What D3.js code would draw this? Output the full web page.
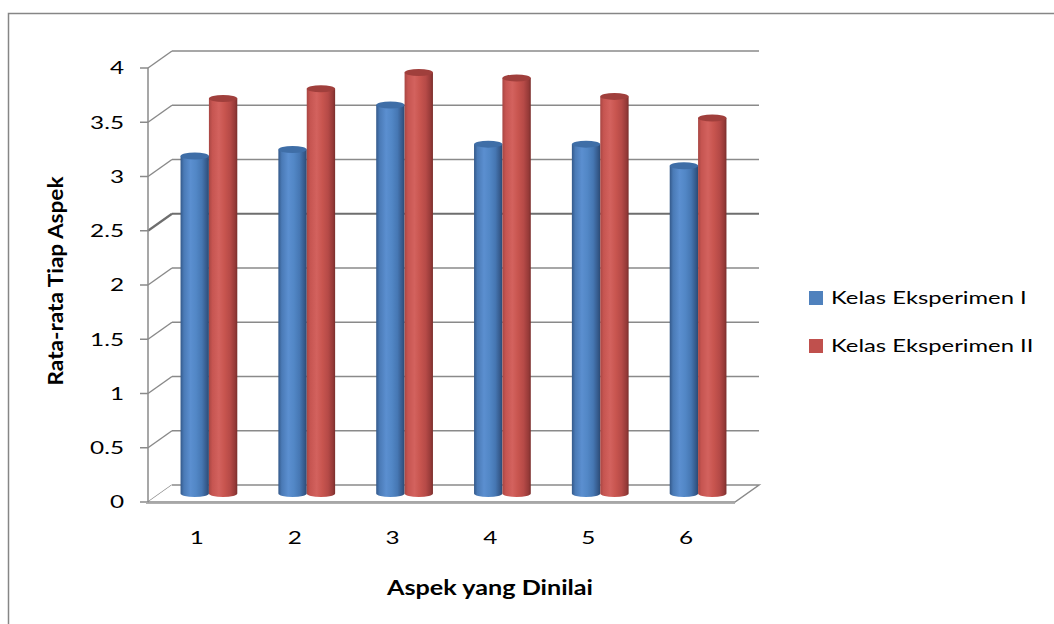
<!DOCTYPE html>
<html>
<head>
<meta charset="utf-8">
<script src="https://cdn.jsdelivr.net/npm/d3@7"></script>
<style>
  html, body { margin: 0; padding: 0; background: #fff; }
  svg { display: block; }
  text { font-family: Lato, "Open Sans", sans-serif; fill: #000; }
</style>
</head>
<body>
<svg id="chart" width="1054" height="624"></svg>
<script>
// Average score per assessed aspect, two experimental classes
const categories = ["1", "2", "3", "4", "5", "6"];
const seriesNames = ["Kelas Eksperimen I", "Kelas Eksperimen II"];
const kelas1 = [3.11, 3.17, 3.58, 3.22, 3.22, 3.02];
const kelas2 = [3.64, 3.73, 3.88, 3.83, 3.66, 3.46];
const yTicks = [0, 0.5, 1, 1.5, 2, 2.5, 3, 3.5, 4];
const yTickLabels = ["0", "0.5", "1", "1.5", "2", "2.5", "3", "3.5", "4"];
const xTitle = "Aspek yang Dinilai";
const yTitle = "Rata-rata Tiap Aspek";

const svg = d3.select("#chart");

// Plot frame: front plane plus an oblique depth offset for the back wall
const plotLeft = 148, plotRight = 735, plotBottom = 502, plotTop = 68;
const depth = { dx: 24, dy: -17 };
const barDepth = { dx: depth.dx / 2, dy: depth.dy / 2 };

const x = d3.scaleBand().domain(categories).range([plotLeft, plotRight])
  .paddingInner(0.42).paddingOuter(0.21);
const xLabel = d3.scaleBand().domain(categories).range([plotLeft, plotRight]);
const xSeries = d3.scaleBand().domain(seriesNames).range([0, x.bandwidth()]);
const y = d3.scaleLinear().domain([0, 4]).range([plotBottom, plotTop]);

const colors = {
  "Kelas Eksperimen I": { base: "#4F81BD", stops: ["#34598a", "#4a7ab6", "#5b8fd0", "#5287c6", "#4677b3", "#35598a", "#2b4a74"], top: "#3f6ea7" },
  "Kelas Eksperimen II": { base: "#C0504D", stops: ["#a84643", "#c65551", "#d3625e", "#c8554f", "#b64a47", "#963a38", "#7a2e2c"], top: "#a03f3c" }
};

// Text is drawn wide (horizontal stretch) like the rest of the chart
const stretch = 1.4;

// Outer chart border
svg.append("rect")
  .attr("x", 8.5).attr("y", 13.5).attr("width", 1100).attr("height", 700)
  .attr("fill", "none").attr("stroke", "#868686").attr("stroke-width", 1.5);

// Cylinder shading gradients
const defs = svg.append("defs");
seriesNames.forEach((s, i) => {
  const g = defs.append("linearGradient").attr("id", "grad" + i)
    .attr("x1", "0%").attr("x2", "100%").attr("y1", "0%").attr("y2", "0%");
  const offs = [0, 0.12, 0.35, 0.55, 0.75, 0.92, 1];
  colors[s].stops.forEach((c, k) => g.append("stop").attr("offset", offs[k]).attr("stop-color", c));
});

const grid = svg.append("g").attr("fill", "none");
const gridColor = "#8a8a8a";

// Back wall gridlines and the diagonal connectors on the side wall
yTicks.forEach(v => {
  const strong = v === 2.5;
  const col = strong ? "#6e6e6e" : gridColor;
  const w = strong ? 2.2 : 1.5;
  if (v > 0) {
    grid.append("line")
      .attr("x1", plotLeft + depth.dx).attr("x2", plotRight + depth.dx)
      .attr("y1", y(v) + depth.dy).attr("y2", y(v) + depth.dy)
      .attr("stroke", col).attr("stroke-width", w);
  }
  grid.append("line")
    .attr("x1", plotLeft).attr("y1", y(v))
    .attr("x2", plotLeft + depth.dx).attr("y2", y(v) + depth.dy)
    .attr("stroke", col).attr("stroke-width", w);
  // tick mark
  grid.append("line")
    .attr("x1", plotLeft - 8).attr("x2", plotLeft)
    .attr("y1", y(v)).attr("y2", y(v))
    .attr("stroke", gridColor).attr("stroke-width", 1.5);
});

// Floor
grid.append("path")
  .attr("d", [
    "M", plotLeft, y(0),
    "L", plotRight, y(0),
    "L", plotRight + depth.dx, y(0) + depth.dy,
    "L", plotLeft + depth.dx, y(0) + depth.dy
  ].join(" "))
  .attr("stroke", gridColor).attr("stroke-width", 1.5).attr("fill", "#fff");
grid.append("line")
  .attr("x1", plotLeft - 2).attr("x2", plotRight)
  .attr("y1", y(0) + 1.5).attr("y2", y(0) + 1.5)
  .attr("stroke", "#b0b0b0").attr("stroke-width", 1);

// Vertical (front) value axis
grid.append("line")
  .attr("x1", plotLeft).attr("x2", plotLeft)
  .attr("y1", y(4)).attr("y2", y(0))
  .attr("stroke", gridColor).attr("stroke-width", 1.5);

// Cylinders
const ry = 3.5;
const bars = svg.append("g");
const data = [];
categories.forEach((c, i) => {
  data.push({ cat: c, series: seriesNames[0], value: kelas1[i], si: 0 });
  data.push({ cat: c, series: seriesNames[1], value: kelas2[i], si: 1 });
});

data.forEach(d => {
  const x0 = x(d.cat) + xSeries(d.series) + barDepth.dx;
  const w = xSeries.bandwidth();
  const rx = w / 2;
  const yBottom = y(0) + barDepth.dy;
  const yTop = y(d.value) + barDepth.dy;
  const g = bars.append("g");
  g.append("path")
    .attr("d", `M${x0},${yTop} L${x0},${yBottom} A${rx},${ry} 0 0 0 ${x0 + w},${yBottom} L${x0 + w},${yTop} Z`)
    .attr("fill", `url(#grad${d.si})`);
  g.append("ellipse")
    .attr("cx", x0 + rx).attr("cy", yTop)
    .attr("rx", rx).attr("ry", ry)
    .attr("fill", colors[d.series].top);
});

// Value axis labels
svg.append("g").selectAll("text").data(yTicks).join("text")
  .attr("transform", v => `translate(124,${y(v)}) scale(1.35,1)`).attr("dy", "0.36em")
  .attr("text-anchor", "end").attr("font-size", 18)
  .text((v, i) => yTickLabels[i]);

// Category labels
svg.append("g").selectAll("text").data(categories).join("text")
  .attr("transform", c => `translate(${xLabel(c) + xLabel.bandwidth() / 2},538) scale(1.35,1)`).attr("dy", "0.36em")
  .attr("text-anchor", "middle").attr("font-size", 18)
  .text(c => c);

// Axis titles
svg.append("text")
  .attr("transform", "translate(490,588) scale(1.26,1)").attr("dy", "0.36em")
  .attr("text-anchor", "middle").attr("font-size", 20).attr("font-weight", "bold")
  .text(xTitle);
svg.append("text")
  .attr("transform", "translate(56,281) rotate(-90) scale(1.256,1.15)").attr("dy", "0.36em")
  .attr("text-anchor", "middle").attr("font-size", 18).attr("font-weight", "bold")
  .text(yTitle);

// Legend
const legend = svg.append("g").selectAll("g").data(seriesNames).join("g")
  .attr("transform", (s, i) => `translate(809,${291 + i * 48})`);
legend.append("rect").attr("width", 14).attr("height", 14)
  .attr("fill", s => colors[s].base);
legend.append("text").attr("transform", `translate(22,7) scale(${stretch},1)`).attr("dy", "0.36em")
  .attr("font-size", 17).text(s => s);
</script>
</body>
</html>
